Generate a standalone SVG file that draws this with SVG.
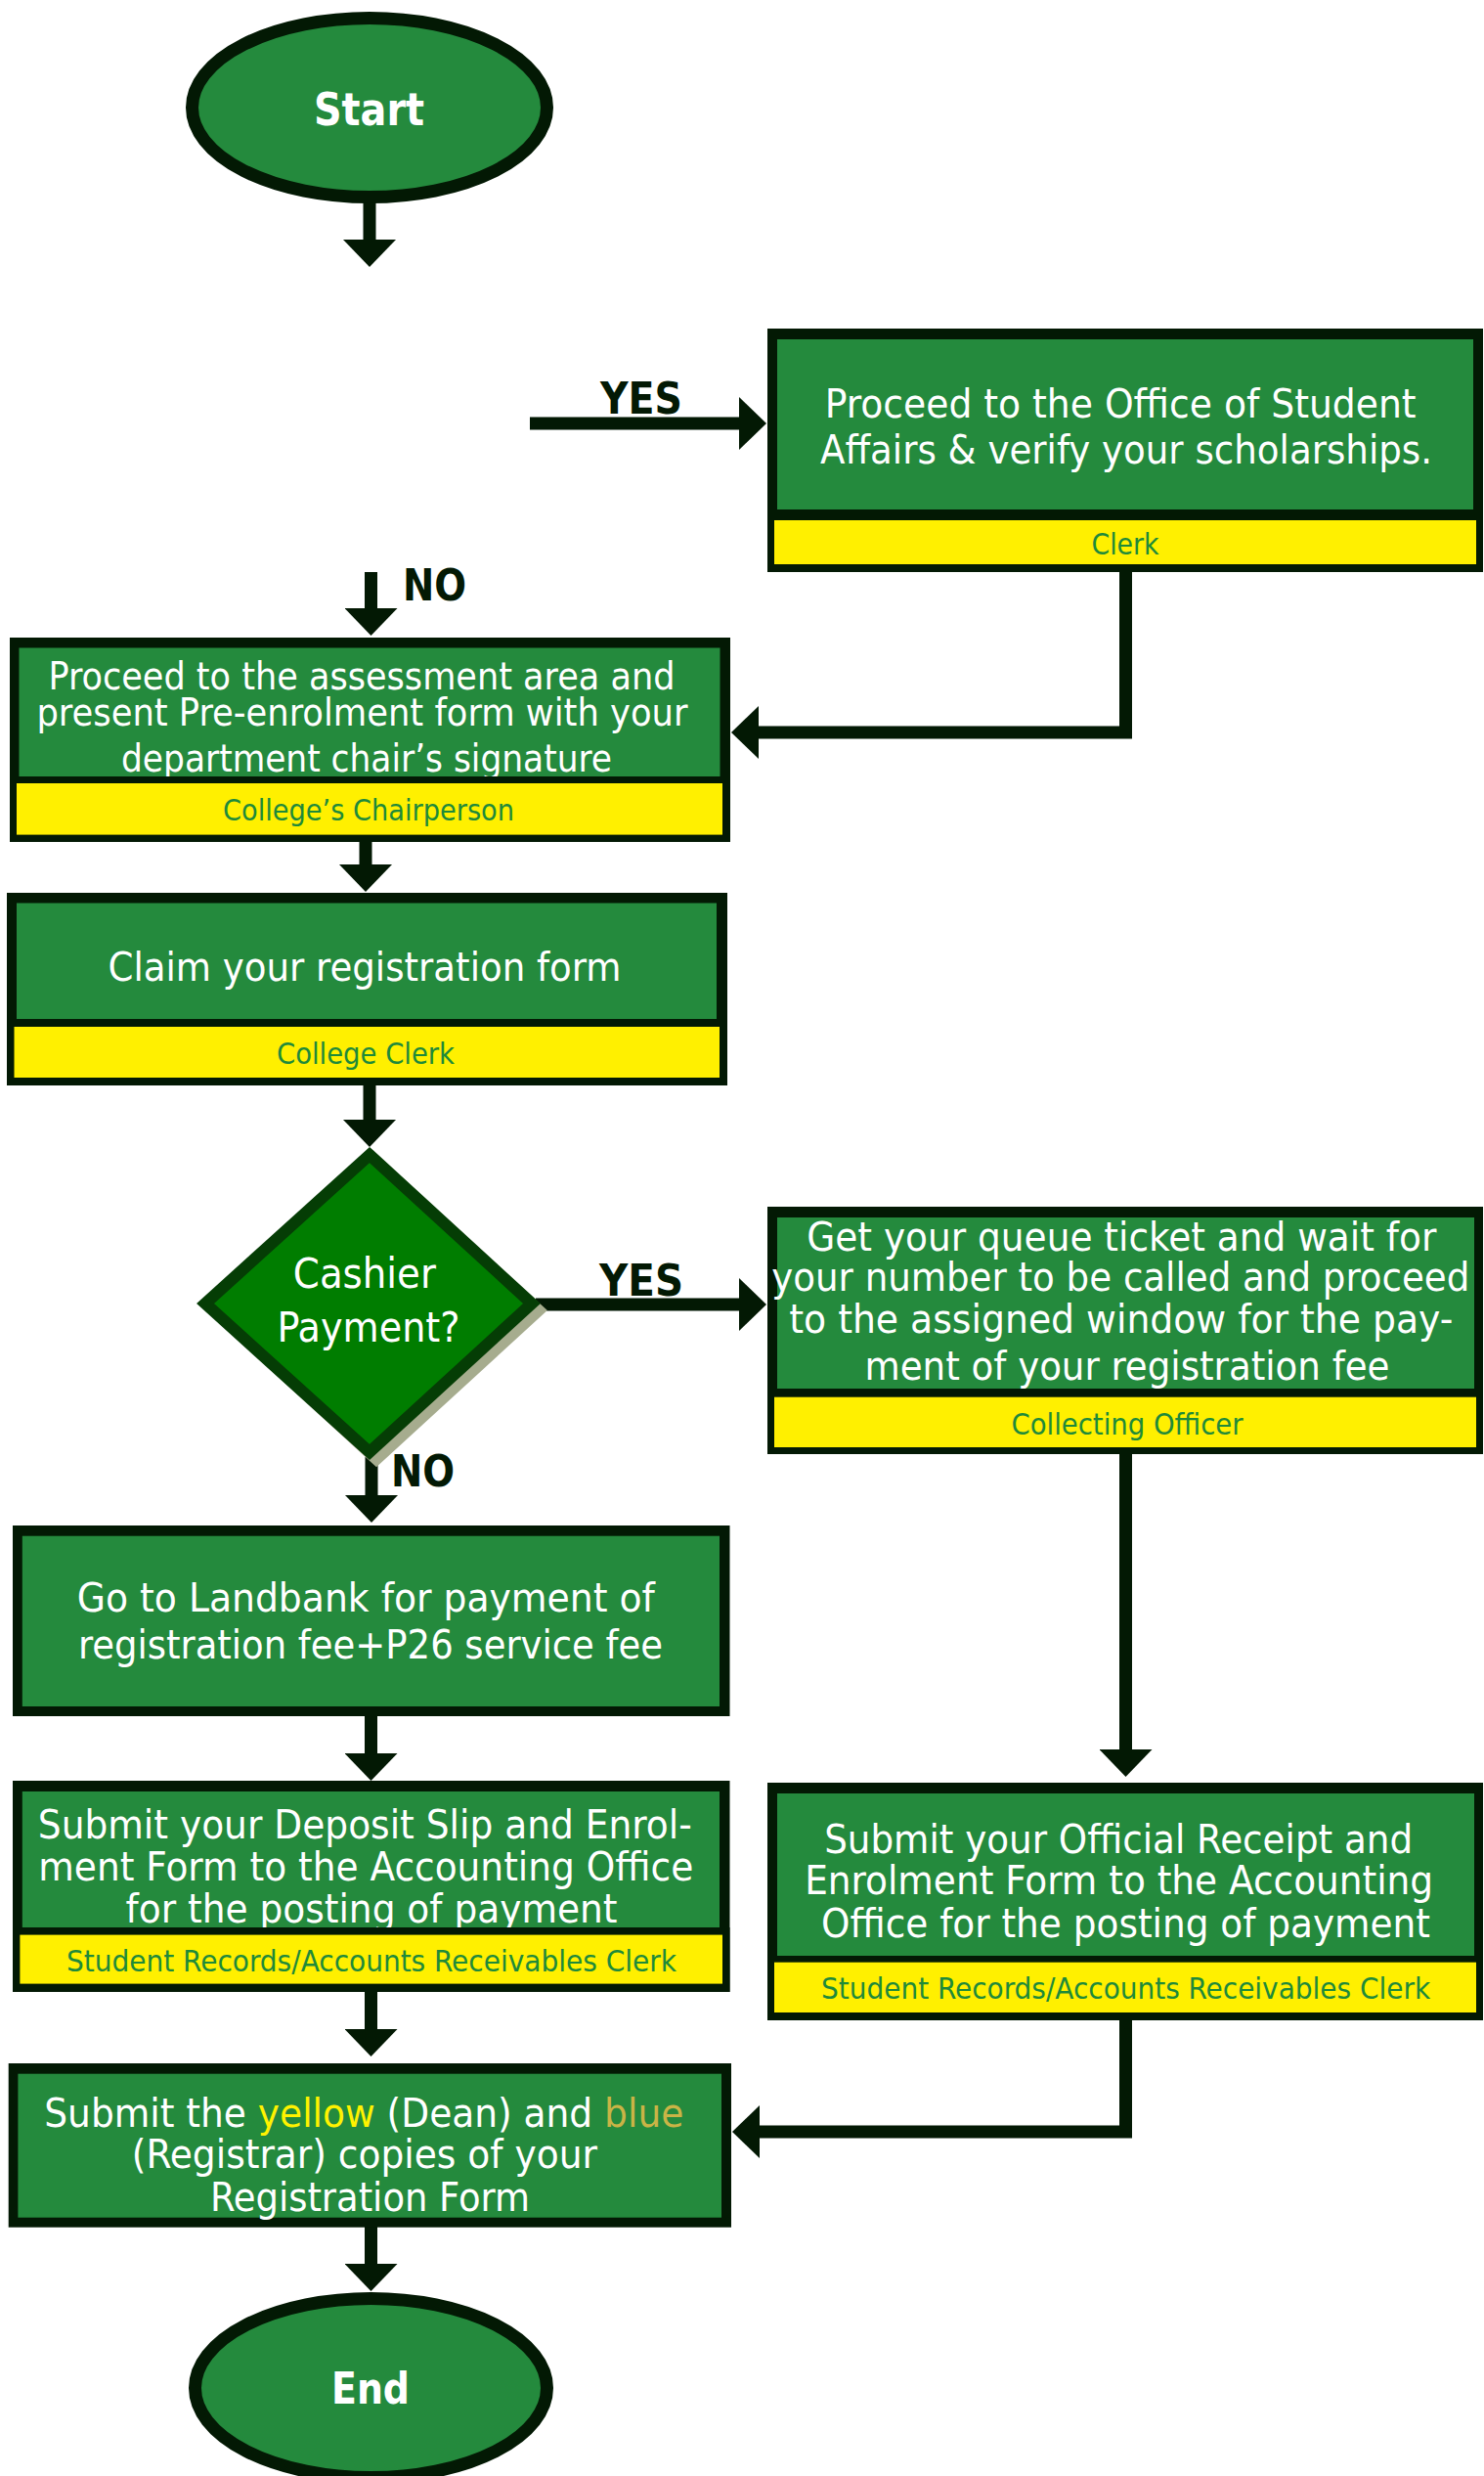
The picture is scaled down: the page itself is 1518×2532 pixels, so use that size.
<svg xmlns="http://www.w3.org/2000/svg" width="1518" height="2532" viewBox="0 0 1518 2532">
  <style>
    .frame { fill: #031904; }
    .body { fill: #248a3d; }
    .band { fill: #fff000; }
    .term { fill: #248a3d; stroke: #031904; stroke-width: 13; }
    .txt { font-family: "DejaVu Sans Condensed", "DejaVu Sans", sans-serif; font-stretch: condensed; fill: #ffffff; text-anchor: middle; }
    .role { font-family: "DejaVu Sans Condensed", "DejaVu Sans", sans-serif; font-stretch: condensed; fill: #1e8a3a; text-anchor: middle; font-size: 31px; }
    .bold { font-weight: bold; }
    .lbl { font-family: "DejaVu Sans Condensed", "DejaVu Sans", sans-serif; font-stretch: condensed; font-weight: bold; fill: #031904; font-size: 44px; text-anchor: middle; }
    .conn { fill: none; stroke: #031904; stroke-width: 13; stroke-linejoin: miter; marker-end: url(#head); }
  </style>
  <defs>
    <marker id="head" viewBox="0 0 28 54" refX="0" refY="27" markerWidth="28" markerHeight="54" markerUnits="userSpaceOnUse" orient="auto">
      <path d="M0,0 L28,27 L0,54 Z" fill="#031904"/>
    </marker>
  </defs>

  <rect width="1518" height="2532" fill="#ffffff"/>

  <!-- connectors -->
  <g id="connectors">
    <path class="conn" d="M378,204 V245"/>
    <path class="conn" d="M542,433 H756"/>
    <path class="conn" d="M379.5,585 V622"/>
    <path class="conn" d="M1151.5,585 V749 H776"/>
    <path class="conn" d="M374,861 V884"/>
    <path class="conn" d="M378,1110 V1145"/>
    <path class="conn" d="M548,1334 H756"/>
    <path class="conn" d="M380,1490 V1529"/>
    <path class="conn" d="M1151.5,1487 V1789"/>
    <path class="conn" d="M379.5,1755 V1793"/>
    <path class="conn" d="M379.5,2037 V2075"/>
    <path class="conn" d="M1151.5,2066 V2180 H777"/>
    <path class="conn" d="M379.5,2277 V2315"/>
    <text class="lbl" x="656" y="423" textLength="84" lengthAdjust="spacingAndGlyphs">YES</text>
    <text class="lbl" x="444.5" y="614" font-size="45" textLength="65" lengthAdjust="spacingAndGlyphs">NO</text>
    <text class="lbl" x="656" y="1324.5" textLength="86" lengthAdjust="spacingAndGlyphs">YES</text>
    <text class="lbl" x="432.5" y="1520" font-size="45" textLength="65" lengthAdjust="spacingAndGlyphs">NO</text>
  </g>

  <!-- start terminal -->
  <g id="start">
    <ellipse class="term" cx="378" cy="110" rx="181.5" ry="91.5"/>
    <text class="txt bold" x="377.5" y="128" font-size="47" textLength="113" lengthAdjust="spacingAndGlyphs">Start</text>
  </g>

  <!-- scholarship verification -->
  <g id="osa">
    <rect class="frame" x="785" y="336" width="732" height="249"/>
    <rect class="body" x="795" y="347" width="712" height="174"/>
    <text class="txt" font-size="41">
      <tspan x="1152" y="426.7" textLength="605" lengthAdjust="spacingAndGlyphs">Proceed to the Office of Student</tspan>
      <tspan x="1152" y="474" textLength="626" lengthAdjust="spacingAndGlyphs">Affairs &amp; verify your scholarships.</tspan>
    </text>
    <rect class="band" x="792" y="532" width="718" height="45"/>
    <text class="role" x="1151" y="567" textLength="69" lengthAdjust="spacingAndGlyphs">Clerk</text>
  </g>

  <!-- assessment -->
  <g id="assessment">
    <rect class="frame" x="10" y="652" width="737" height="209"/>
    <rect class="body" x="19.5" y="662.5" width="717" height="131.5"/>
    <text class="txt" font-size="39">
      <tspan x="375.5" y="704.6" textLength="641" lengthAdjust="spacingAndGlyphs">Proceed to the assessment area and</tspan>
      <tspan x="376" y="742" textLength="666" lengthAdjust="spacingAndGlyphs">present Pre-enrolment form with your</tspan>
      <tspan x="375" y="788.6" textLength="502" lengthAdjust="spacingAndGlyphs">department chair’s signature</tspan>
    </text>
    <rect class="frame" x="10" y="794" width="737" height="67"/>
    <rect class="band" x="17" y="801" width="722" height="52.6"/>
    <text class="role" x="377" y="838.6" textLength="298" lengthAdjust="spacingAndGlyphs">College’s Chairperson</text>
  </g>

  <!-- registration form claim -->
  <g id="claim">
    <rect class="frame" x="7" y="913" width="737" height="197"/>
    <rect class="body" x="17" y="923.5" width="716" height="118.5"/>
    <text class="txt" x="373" y="1003" font-size="41" textLength="525" lengthAdjust="spacingAndGlyphs">Claim your registration form</text>
    <rect class="band" x="14.5" y="1050" width="721.5" height="52"/>
    <text class="role" x="374" y="1088" textLength="182" lengthAdjust="spacingAndGlyphs">College Clerk</text>
  </g>

  <!-- payment decision -->
  <g id="cashier">
    <polygon points="385,1188 551,1340 385,1492 219,1340" fill="none" stroke="#a6ac8e" stroke-width="12"/>
    <polygon points="378,1181 544,1333 378,1485 210,1333" fill="#007d00" stroke="#053d05" stroke-width="12"/>
    <text class="txt" font-size="43">
      <tspan x="379" y="1316.7" textLength="146" lengthAdjust="spacingAndGlyphs">Cashier</tspan>
      <tspan x="377" y="1371.7" textLength="187" lengthAdjust="spacingAndGlyphs">Payment?</tspan>
    </text>
  </g>

  <!-- cashier queue -->
  <g id="queue">
    <rect class="frame" x="785" y="1234" width="732" height="253"/>
    <rect class="body" x="795" y="1245" width="713" height="175"/>
    <text class="txt" font-size="40">
      <tspan x="1153" y="1279" textLength="644" lengthAdjust="spacingAndGlyphs">Get your queue ticket and wait for</tspan>
      <tspan x="1152" y="1320" textLength="714" lengthAdjust="spacingAndGlyphs">your number to be called and proceed</tspan>
      <tspan x="1152.5" y="1363" textLength="679" lengthAdjust="spacingAndGlyphs">to the assigned window for the pay-</tspan>
      <tspan x="1153" y="1411" textLength="537" lengthAdjust="spacingAndGlyphs">ment of your registration fee</tspan>
    </text>
    <rect class="band" x="792" y="1428.7" width="718" height="51.3"/>
    <text class="role" x="1153" y="1466.7" textLength="237" lengthAdjust="spacingAndGlyphs">Collecting Officer</text>
  </g>

  <!-- bank payment -->
  <g id="landbank">
    <rect class="frame" x="13" y="1560" width="733.5" height="195"/>
    <rect class="body" x="22.8" y="1570.7" width="713.2" height="174.3"/>
    <text class="txt" font-size="40">
      <tspan x="380" y="1648" textLength="591" lengthAdjust="spacingAndGlyphs">Go to Landbank for payment of</tspan>
      <tspan x="379" y="1696" textLength="598" lengthAdjust="spacingAndGlyphs">registration fee+P26 service fee</tspan>
    </text>
  </g>

  <!-- deposit slip posting -->
  <g id="deposit">
    <rect class="frame" x="13" y="1821" width="733.5" height="216"/>
    <rect class="body" x="22.8" y="1832" width="713.2" height="139"/>
    <text class="txt" font-size="40">
      <tspan x="379" y="1880" textLength="669" lengthAdjust="spacingAndGlyphs">Submit your Deposit Slip and Enrol-</tspan>
      <tspan x="380" y="1923" textLength="670" lengthAdjust="spacingAndGlyphs">ment Form to the Accounting Office</tspan>
      <tspan x="380" y="1966" textLength="503" lengthAdjust="spacingAndGlyphs">for the posting of payment</tspan>
    </text>
    <rect class="frame" x="13" y="1971" width="733.5" height="66"/>
    <rect class="band" x="20.4" y="1978.6" width="718.6" height="50"/>
    <text class="role" x="380" y="2016" textLength="624" lengthAdjust="spacingAndGlyphs">Student Records/Accounts Receivables Clerk</text>
  </g>

  <!-- official receipt posting -->
  <g id="receipt">
    <rect class="frame" x="785" y="1823" width="732" height="243"/>
    <rect class="body" x="795" y="1834" width="713" height="166"/>
    <text class="txt" font-size="41">
      <tspan x="1150" y="1895" textLength="602" lengthAdjust="spacingAndGlyphs">Submit your Official Receipt and</tspan>
      <tspan x="1150.5" y="1937" textLength="643" lengthAdjust="spacingAndGlyphs">Enrolment Form to the Accounting</tspan>
      <tspan x="1151.5" y="1980.7" textLength="623" lengthAdjust="spacingAndGlyphs">Office for the posting of payment</tspan>
    </text>
    <rect class="band" x="792" y="2006.7" width="718" height="51.3"/>
    <text class="role" x="1151.6" y="2044" textLength="623" lengthAdjust="spacingAndGlyphs">Student Records/Accounts Receivables Clerk</text>
  </g>

  <!-- form copies submission -->
  <g id="copies">
    <rect class="frame" x="8.7" y="2110" width="739.3" height="167.7"/>
    <rect class="body" x="18.4" y="2120.7" width="719.6" height="147"/>
    <text class="txt" font-size="40">
      <tspan x="378" y="2175" textLength="654" lengthAdjust="spacingAndGlyphs">Submit the <tspan fill="#fff200">yellow</tspan> (Dean) and <tspan fill="#c9b446">blue</tspan></tspan>
      <tspan x="378.6" y="2216.7" textLength="476" lengthAdjust="spacingAndGlyphs">(Registrar) copies of your</tspan>
      <tspan x="378.4" y="2260.7" textLength="327" lengthAdjust="spacingAndGlyphs">Registration Form</tspan>
    </text>
  </g>

  <!-- end terminal -->
  <g id="end">
    <ellipse class="term" cx="379.5" cy="2442" rx="180" ry="91.5"/>
    <text class="txt bold" x="379" y="2458" font-size="44" textLength="80" lengthAdjust="spacingAndGlyphs">End</text>
  </g>
</svg>
